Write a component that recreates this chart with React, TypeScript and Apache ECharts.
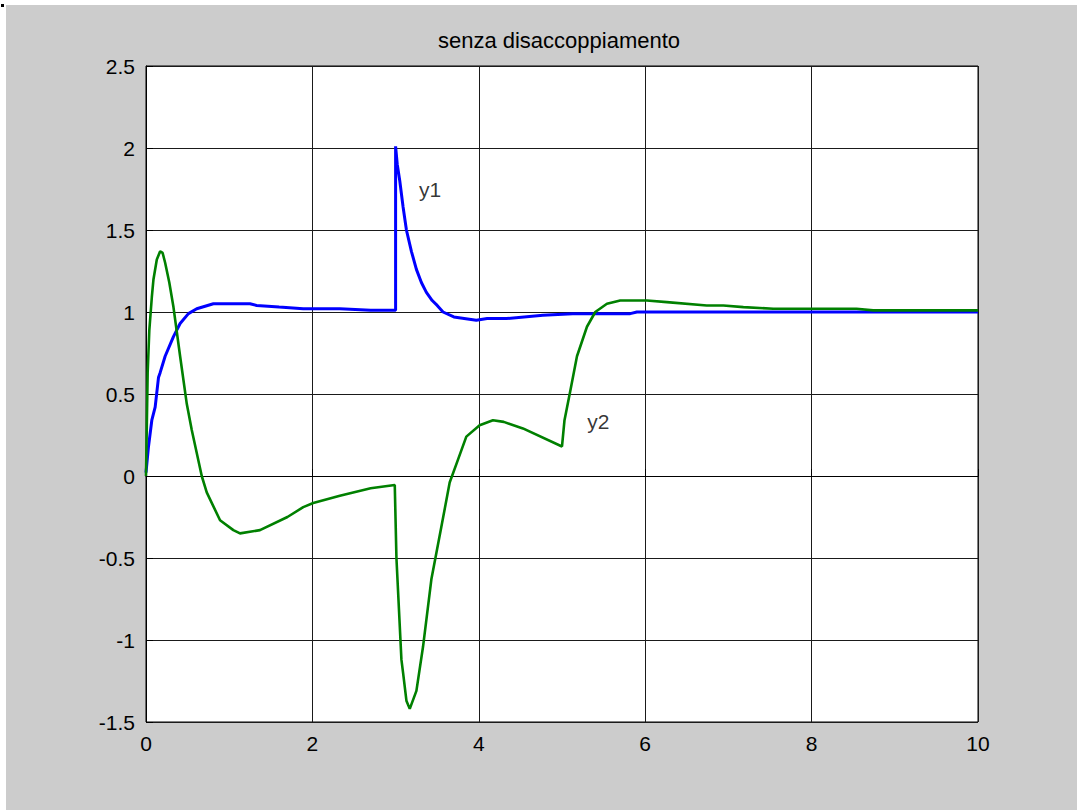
import React, { useEffect, useRef } from "react";
import * as echarts from "echarts";

const titleText = "senza disaccoppiamento";
const xTicks = { min: 0, max: 10, interval: 2 };
const yTicks = { min: -1.5, max: 2.5, interval: 0.5 };

const y1Time = [0, 0.03, 0.07, 0.11, 0.15, 0.17, 0.23, 0.33, 0.41, 0.51, 0.61, 0.81, 1.25, 1.33, 1.6, 1.89, 2.33, 2.7, 3.0, 3.0, 3.02, 3.05, 3.09, 3.13, 3.19, 3.25, 3.31, 3.37, 3.44, 3.5, 3.57, 3.7, 3.97, 4.1, 4.33, 4.77, 5.13, 5.82, 5.9, 10];
const y1Values = [0.02, 0.18, 0.34, 0.42, 0.6, 0.63, 0.73, 0.85, 0.93, 0.99, 1.02, 1.05, 1.05, 1.04, 1.03, 1.02, 1.02, 1.01, 1.01, 2.01, 1.9, 1.8, 1.64, 1.5, 1.37, 1.26, 1.18, 1.12, 1.07, 1.04, 1.0, 0.97, 0.95, 0.96, 0.96, 0.98, 0.99, 0.99, 1.0, 1.0];

const y2Time = [0, 0.02, 0.04, 0.07, 0.09, 0.13, 0.17, 0.2, 0.23, 0.28, 0.33, 0.41, 0.49, 0.55, 0.67, 0.73, 0.89, 1.05, 1.13, 1.37, 1.7, 1.89, 2.01, 2.33, 2.7, 2.99, 3.01, 3.07, 3.09, 3.13, 3.17, 3.25, 3.33, 3.43, 3.49, 3.55, 3.65, 3.75, 3.85, 4.01, 4.17, 4.3, 4.53, 5.0, 5.03, 5.1, 5.18, 5.3, 5.4, 5.54, 5.7, 6.02, 6.26, 6.74, 6.94, 7.18, 7.54, 8.54, 8.74, 10];
const y2Values = [0, 0.63, 0.89, 1.09, 1.2, 1.32, 1.37, 1.36, 1.3, 1.18, 1.03, 0.73, 0.44, 0.28, 0.0, -0.1, -0.27, -0.33, -0.35, -0.33, -0.25, -0.19, -0.165, -0.12, -0.075, -0.055, -0.5, -1.12, -1.2, -1.37, -1.42, -1.31, -1.04, -0.63, -0.47, -0.31, -0.04, 0.1, 0.24, 0.31, 0.34, 0.33, 0.29, 0.18, 0.34, 0.52, 0.73, 0.91, 1.0, 1.05, 1.07, 1.07, 1.06, 1.04, 1.04, 1.03, 1.02, 1.02, 1.01, 1.01];

const curveLabels = ["y1", "y2"];
const labelPositions = [[3.27, 1.75], [5.29, 0.335]];

export default function App() {
  const ref = useRef<HTMLDivElement>(null);
  useEffect(() => {
    document.body.style.margin = "0";
    const chart = echarts.init(ref.current!, null, { renderer: "svg" });
    const font = "'Liberation Sans', Arial, sans-serif";
    const pairs = (t: number[], v: number[]) => t.map((x, i) => [x, v[i]]);
    chart.setOption({
      animation: false,
      backgroundColor: "#cccccc",
      grid: {
        left: 140,
        top: 61,
        right: 99,
        bottom: 88,
        show: true,
        backgroundColor: "#ffffff",
        borderColor: "#000000",
        borderWidth: 1,
      },
      graphic: [
        {
          type: "text",
          x: 553,
          y: 35,
          style: {
            text: titleText,
            fontSize: 22,
            fontFamily: font,
            fill: "#000",
            textAlign: "center",
            textVerticalAlign: "middle",
          },
        },
      ],
      xAxis: {
        type: "value",
        min: xTicks.min,
        max: xTicks.max,
        interval: xTicks.interval,
        axisLine: { show: true, lineStyle: { color: "#000", width: 1 } },
        axisTick: { show: true, inside: true, length: 7, lineStyle: { color: "#000" } },
        axisLabel: { color: "#000", fontSize: 21, fontFamily: font, margin: 11 },
        splitLine: { show: true, lineStyle: { color: "#1a1a1a", width: 1 } },
      },
      yAxis: {
        type: "value",
        min: yTicks.min,
        max: yTicks.max,
        interval: yTicks.interval,
        axisLine: { show: true, lineStyle: { color: "#000", width: 1 } },
        axisTick: { show: true, inside: true, length: 7, lineStyle: { color: "#000" } },
        axisLabel: { color: "#000", fontSize: 21, fontFamily: font, margin: 11 },
        splitLine: { show: true, lineStyle: { color: "#1a1a1a", width: 1 } },
      },
      series: [
        {
          type: "line",
          data: pairs(y1Time, y1Values),
          showSymbol: false,
          symbol: "none",
          lineStyle: { color: "#0000ff", width: 3 },
          z: 3,
        },
        {
          type: "line",
          data: pairs(y2Time, y2Values),
          showSymbol: false,
          symbol: "none",
          lineStyle: { color: "#008000", width: 2.6 },
          z: 4,
        },
        {
          type: "scatter",
          data: labelPositions.map((p, i) => ({ value: p, name: curveLabels[i] })),
          symbolSize: 2,
          itemStyle: { color: "rgba(0,0,0,0)" },
          label: {
            show: true,
            formatter: (p: any) => p.name,
            position: "right",
            distance: 0,
            color: "#000",
            fontSize: 21,
            fontFamily: font,
          },
          z: 5,
        },
      ],
    });
    return () => chart.dispose();
  }, []);
  return (
    <div style={{ position: "fixed", left: 0, top: 0, width: 1077, height: 810, background: "#ffffff" }}>
      <div style={{ position: "absolute", left: 1, top: 4, width: 3, height: 3, background: "#000" }} />
      <div ref={ref} style={{ position: "absolute", left: 6, top: 5, width: 1071, height: 805 }} />
    </div>
  );
}
